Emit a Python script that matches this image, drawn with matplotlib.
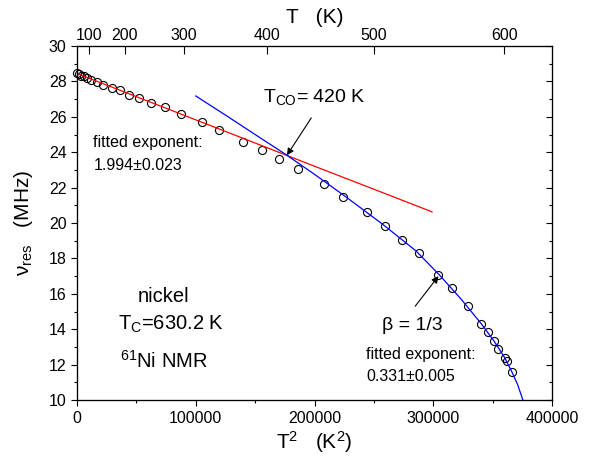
import numpy as np
import matplotlib
matplotlib.use("Agg")
import matplotlib.pyplot as plt
from matplotlib.ticker import MultipleLocator

plt.rcParams['font.family'] = ['Liberation Sans', 'DejaVu Sans']
plt.rcParams['mathtext.fontset'] = 'custom'
plt.rcParams['mathtext.rm'] = 'Liberation Sans'
plt.rcParams['mathtext.it'] = 'Liberation Sans:italic'
plt.rcParams['mathtext.bf'] = 'Liberation Sans:bold'

# measured resonance frequency vs T^2
t2_data = [18, 1340, 3360, 5540, 8390, 12000, 16800, 22300, 29400, 36300,
           44200, 52500, 62100, 74100, 87600, 104900, 119500, 139800, 156100, 170100,
           186400, 207600, 224400, 243900, 259400, 273700, 287600, 303900, 315700, 329500,
           340200, 346100, 351100, 354700, 360100, 361800, 366000]
nu_data = [28.48, 28.43, 28.33, 28.28, 28.20, 28.07, 27.95, 27.79, 27.64, 27.49,
           27.24, 27.07, 26.79, 26.54, 26.17, 25.69, 25.28, 24.59, 24.10, 23.60,
           23.06, 22.18, 21.48, 20.61, 19.82, 19.05, 18.28, 17.09, 16.31, 15.30,
           14.32, 13.83, 13.34, 12.91, 12.38, 12.23, 11.59]

# low-T fit (red)
t2_red = [0, 50000, 100000, 150000, 200000, 250000, 299000]
nu_red = [28.45, 27.14, 25.83, 24.52, 23.21, 21.91, 20.63]

# critical fit (blue)
t2_blue = [100000, 125000, 150000, 176800, 201500, 226600, 257400, 285400,
           305000, 323200, 340200, 351100, 360100, 366000, 371000, 375500]
nu_blue = [27.18, 26.10, 25.00, 23.83, 22.68, 21.47, 19.93, 18.43,
           17.08, 15.72, 14.33, 13.34, 12.40, 11.62, 10.88, 10.0]

top_T = [100, 200, 300, 400, 500, 600]

fig = plt.figure(figsize=(5.91, 4.59), dpi=100)
ax = fig.add_axes([0.1303, 0.1285, 0.8037, 0.7712])

ax.plot(t2_data, nu_data, 'o', mfc='none', mec='black', ms=5.8, mew=0.8,
        clip_on=False, zorder=2)
ax.plot(t2_red, nu_red, color='#ff0000', lw=0.9, zorder=3)
ax.plot(t2_blue, nu_blue, color='#0000ff', lw=0.9, zorder=3)

ax.set_xlim(0, 400000)
ax.set_ylim(10, 30)
ax.xaxis.set_major_locator(MultipleLocator(100000))
ax.xaxis.set_minor_locator(MultipleLocator(50000))
ax.yaxis.set_major_locator(MultipleLocator(2))
ax.yaxis.set_minor_locator(MultipleLocator(1))
ax.tick_params(which='both', direction='out', labelsize=11.5, width=0.8)
ax.tick_params(which='major', length=4)
ax.tick_params(which='minor', length=2.5)
ax.tick_params(axis='x', pad=4)

# right axis with inward ticks, no labels
axr = ax.twinx()
axr.set_ylim(10, 30)
axr.yaxis.set_major_locator(MultipleLocator(2))
axr.yaxis.set_minor_locator(MultipleLocator(1))
axr.tick_params(which='both', direction='in', labelright=False, width=0.8)
axr.tick_params(which='major', length=4)
axr.tick_params(which='minor', length=2)

# top axis in T
axt = ax.twiny()
axt.set_xlim(0, 400000)
axt.set_xticks([t ** 2 for t in top_T])
axt.set_xticklabels([str(t) for t in top_T])
axt.tick_params(direction='in', length=5.5, width=0.8, labelsize=11.5, pad=2)
axt.set_xlabel('T   (K)', fontsize=15, labelpad=4)

for a in (ax, axr, axt):
    for s in a.spines.values():
        s.set_linewidth(0.8)

ax.set_xlabel('T$^2$   (K$^2$)', fontsize=15, labelpad=2)
ax.set_ylabel('ν$_{\\mathrm{res}}$   (MHz)', fontsize=15, labelpad=10)

ax.text(156400, 26.86, 'T$_{\\mathrm{CO}}$= 420 K', fontsize=14, va='baseline')
ax.text(13700, 24.32, 'fitted exponent:', fontsize=11.5, va='baseline')
ax.text(13700, 23.02, '1.994±0.023', fontsize=11.5, va='baseline')
ax.text(50700, 15.56, 'nickel', fontsize=14.5, va='baseline')
ax.text(34700, 13.98, 'T$_{\\mathrm{C}}$=630.2 K', fontsize=14.5, va='baseline')
ax.text(36300, 11.80, '$^{61}$Ni NMR', fontsize=14.5, va='baseline')
ax.text(257200, 13.98, 'β = 1/3', fontsize=14, va='baseline')
ax.text(243700, 12.34, 'fitted exponent:', fontsize=11.5, va='baseline')
ax.text(243700, 11.07, '0.331±0.005', fontsize=11.5, va='baseline')

arrow = dict(arrowstyle='-|>', color='black', lw=0.8, mutation_scale=10,
             shrinkA=0, shrinkB=0)
ax.annotate('', xy=(176800, 23.83), xytext=(197300, 25.94), arrowprops=arrow)
ax.annotate('', xy=(304400, 17.0), xytext=(284800, 15.30), arrowprops=arrow)

fig.savefig('out.png', dpi=100)
plt.close(fig)
